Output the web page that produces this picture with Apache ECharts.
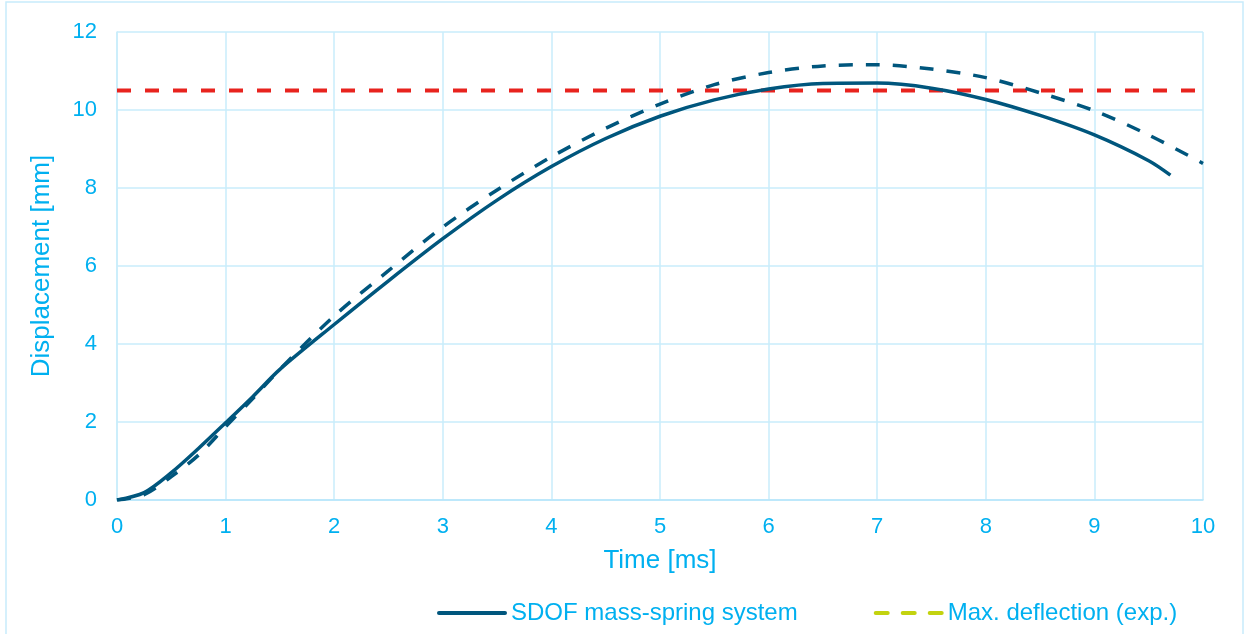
<!DOCTYPE html>
<html>
<head>
<meta charset="utf-8">
<script src="https://cdn.jsdelivr.net/npm/echarts@6/dist/echarts.min.js"></script>
<style>
  html, body { margin: 0; padding: 0; background: #ffffff; }
  #chart { width: 1245px; height: 634px; }
</style>
</head>
<body>
<div id="chart"></div>
<script>
// Time axis samples [ms]
const sdofTime = [0, 0.25, 0.5, 0.75, 1, 1.25, 1.5, 2, 2.5, 3, 3.5, 4, 4.5, 5, 5.5, 6, 6.5, 7, 7.5, 8, 8.5, 9, 9.5, 9.7];
// SDOF mass-spring system displacement [mm]
const sdofDisp = [0, 0.19, 0.7, 1.32, 1.98, 2.65, 3.35, 4.5, 5.62, 6.7, 7.69, 8.55, 9.27, 9.84, 10.26, 10.54, 10.68, 10.69, 10.56, 10.27, 9.86, 9.36, 8.7, 8.33];

// Second response curve (dashed)
const refTime = [0, 0.25, 0.5, 0.75, 1, 1.25, 1.5, 2, 2.5, 3, 3.5, 4, 4.5, 5, 5.5, 6, 6.5, 7, 7.5, 8, 8.5, 9, 9.5, 10];
const refDisp = [0, 0.14, 0.6, 1.15, 1.88, 2.6, 3.35, 4.72, 5.88, 7.0, 7.95, 8.8, 9.53, 10.15, 10.65, 10.96, 11.13, 11.16, 11.05, 10.83, 10.44, 9.98, 9.36, 8.63];

// Measured maximum deflection [mm]
const maxTime = [0, 10];
const maxDefl = [10.5, 10.5];

const xTicks = [0, 1, 2, 3, 4, 5, 6, 7, 8, 9, 10];
const yTicks = [0, 2, 4, 6, 8, 10, 12];

const seriesNames = ['SDOF mass-spring system', 'Max. deflection (exp.)'];

const TEXT = '#00b0f0';
const GRID = '#c8ecfb';
const DARK = '#00567d';
const RED = '#e8231e';
const LIME = '#c3d30f';
const FONT = '"Liberation Sans", Arial, sans-serif';

// Legend glyphs: a solid bar and a three-dash bar
const ICON_SOLID = 'path://M2,0H68A2,2 0 0 1 68,4H2A2,2 0 0 1 2,0Z';
const ICON_DASH = 'path://M2,0H14A2,2 0 0 1 14,4H2A2,2 0 0 1 2,0Z M29,0H41A2,2 0 0 1 41,4H29A2,2 0 0 1 29,0Z M56,0H68A2,2 0 0 1 68,4H56A2,2 0 0 1 56,0Z';

const pairs = (xs, ys) => xs.map((x, i) => [x, ys[i]]);

const chart = echarts.init(document.getElementById('chart'), null, { renderer: 'canvas' });

chart.setOption({
  animation: false,
  backgroundColor: '#ffffff',
  textStyle: { fontFamily: FONT },
  graphic: [{
    type: 'rect',
    shape: { x: 6, y: 2, width: 1237, height: 700 },
    style: { fill: 'none', stroke: GRID, lineWidth: 1.5 },
    silent: true,
    z: -1
  }],
  grid: { left: 117, right: 42, top: 32, bottom: 134 },
  legend: {
    data: [
      { name: seriesNames[0], icon: ICON_SOLID },
      { name: seriesNames[1], icon: ICON_DASH }
    ],
    left: 432,
    top: 596,
    itemWidth: 70,
    itemHeight: 4,
    itemGap: 76,
    textStyle: { color: TEXT, fontSize: 24, fontFamily: FONT, padding: [0, 0, 0, -1] }
  },
  xAxis: {
    type: 'value',
    min: xTicks[0],
    max: xTicks[xTicks.length - 1],
    interval: 1,
    name: 'Time [ms]',
    nameLocation: 'middle',
    nameGap: 48,
    nameTextStyle: { color: TEXT, fontSize: 26, fontFamily: FONT },
    axisLine: { show: true, lineStyle: { color: '#b5e5fa', width: 1.5 } },
    axisTick: { show: false },
    axisLabel: { color: TEXT, fontSize: 22, margin: 16, fontFamily: FONT },
    splitLine: { show: true, lineStyle: { color: GRID, width: 1.5 } }
  },
  yAxis: {
    type: 'value',
    min: yTicks[0],
    max: yTicks[yTicks.length - 1],
    interval: 2,
    name: 'Displacement [mm]',
    nameLocation: 'middle',
    nameGap: 62,
    nameTextStyle: { color: TEXT, fontSize: 26, fontFamily: FONT },
    axisLine: { show: true, lineStyle: { color: GRID, width: 1.5 } },
    axisTick: { show: false },
    axisLabel: { color: TEXT, fontSize: 22, margin: 20, fontFamily: FONT },
    splitLine: { show: true, lineStyle: { color: GRID, width: 1.5 } }
  },
  series: [
    {
      name: 'Max. deflection',
      type: 'line',
      data: pairs(maxTime, maxDefl),
      symbol: 'none',
      lineStyle: { color: RED, width: 4, type: [14, 14] },
      z: 3
    },
    {
      name: 'SDOF (dashed)',
      type: 'line',
      data: pairs(refTime, refDisp),
      smooth: 0.3,
      symbol: 'none',
      lineStyle: { color: DARK, width: 3.5, type: [14, 13] },
      z: 4
    },
    {
      name: seriesNames[0],
      type: 'line',
      data: pairs(sdofTime, sdofDisp),
      smooth: 0.3,
      symbol: 'none',
      color: DARK,
      lineStyle: { color: DARK, width: 3.5 },
      z: 5
    },
    {
      name: seriesNames[1],
      type: 'line',
      data: [],
      symbol: 'none',
      color: LIME,
      lineStyle: { color: LIME, width: 4, type: [14, 12] }
    }
  ]
});
</script>
</body>
</html>
